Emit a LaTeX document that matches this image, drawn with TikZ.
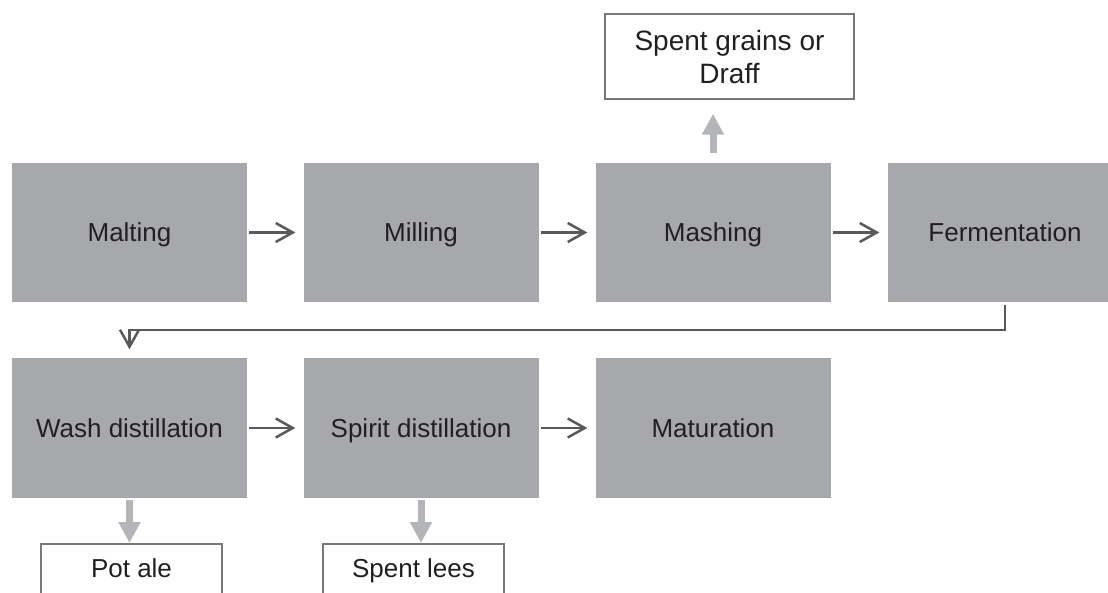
\documentclass[tikz,border=0pt]{standalone}
\usepackage{fontspec}
\setmainfont{Liberation Sans}
\usetikzlibrary{positioning,arrows.meta}
\definecolor{stagegray}{HTML}{A7A8AB}
\definecolor{wastegray}{HTML}{B4B5B8}
\definecolor{linegray}{HTML}{58595B}
\definecolor{edgegray}{HTML}{77787B}
\definecolor{textgray}{HTML}{231F20}
\begin{document}
\begin{tikzpicture}[x=1pt,y=-1pt,
  stage/.style={fill=stagegray,minimum width=235pt,minimum height=139pt,inner sep=0pt,
    text=textgray,font=\fontsize{26}{31}\selectfont,text height=18.6pt,text depth=0pt},
  waste/.style={draw=edgegray,line width=1.5pt,fill=white,inner sep=0pt,
    text=textgray,font=\fontsize{26}{31}\selectfont},
  residue/.style={waste,minimum width=181pt,minimum height=52pt,anchor=north,
    text height=18.6pt,text depth=2.6pt},
  flow/.style={draw=linegray,line width=2.5pt,-{Straight Barb[length=17pt,width=19pt]}},
  byproduct/.style={draw=wastegray,line width=7pt,-{Triangle[length=21pt,width=21pt]}}]
\useasboundingbox (0,0) rectangle (1108,593);
\node [stage] (malt) at (129.5,232.5) {Malting};
\node [stage] (mill) at (421,232.5) {Milling};
\node [stage] (mash) at (713,232.5) {Mashing};
\node [stage] (ferm) at (1005,232.5) {Fermentation};
\node [stage] (wash) at (129.5,428) {Wash distillation};
\node [stage] (spirit) at (421,428) {Spirit distillation};
\node [stage] (mature) at (713,428) {Maturation};
\node [waste,minimum width=249pt,minimum height=85pt,align=center,font=\fontsize{28}{33}\selectfont]
  (grains) at (729.5,56.5) {Spent grains or\\Draff};
\node [residue] (potale) at (131.5,543) {Pot ale};
\node [residue] (lees) at (413.5,543) {Spent lees};
\draw [flow,shorten <=2pt,shorten >=8pt] (malt) -- (mill);
\draw [flow,shorten <=2pt,shorten >=8pt] (mill) -- (mash);
\draw [flow,shorten <=2pt,shorten >=8pt] (mash) -- (ferm);
\draw [flow,shorten <=3pt,shorten >=9pt] (ferm.south) -- ++(0,28) -| (wash.north);
\draw [flow,shorten <=2pt,shorten >=8pt] (wash) -- (spirit);
\draw [flow,shorten <=2pt,shorten >=8pt] (spirit) -- (mature);
\draw [byproduct,shorten <=10pt,shorten >=14pt] (mash.north) -- (mash.north |- grains.south);
\draw [byproduct,shorten <=2pt] (wash.south) -- (wash.south |- potale.north);
\draw [byproduct,shorten <=2pt] (spirit.south) -- (spirit.south |- lees.north);
\end{tikzpicture}
\end{document}
